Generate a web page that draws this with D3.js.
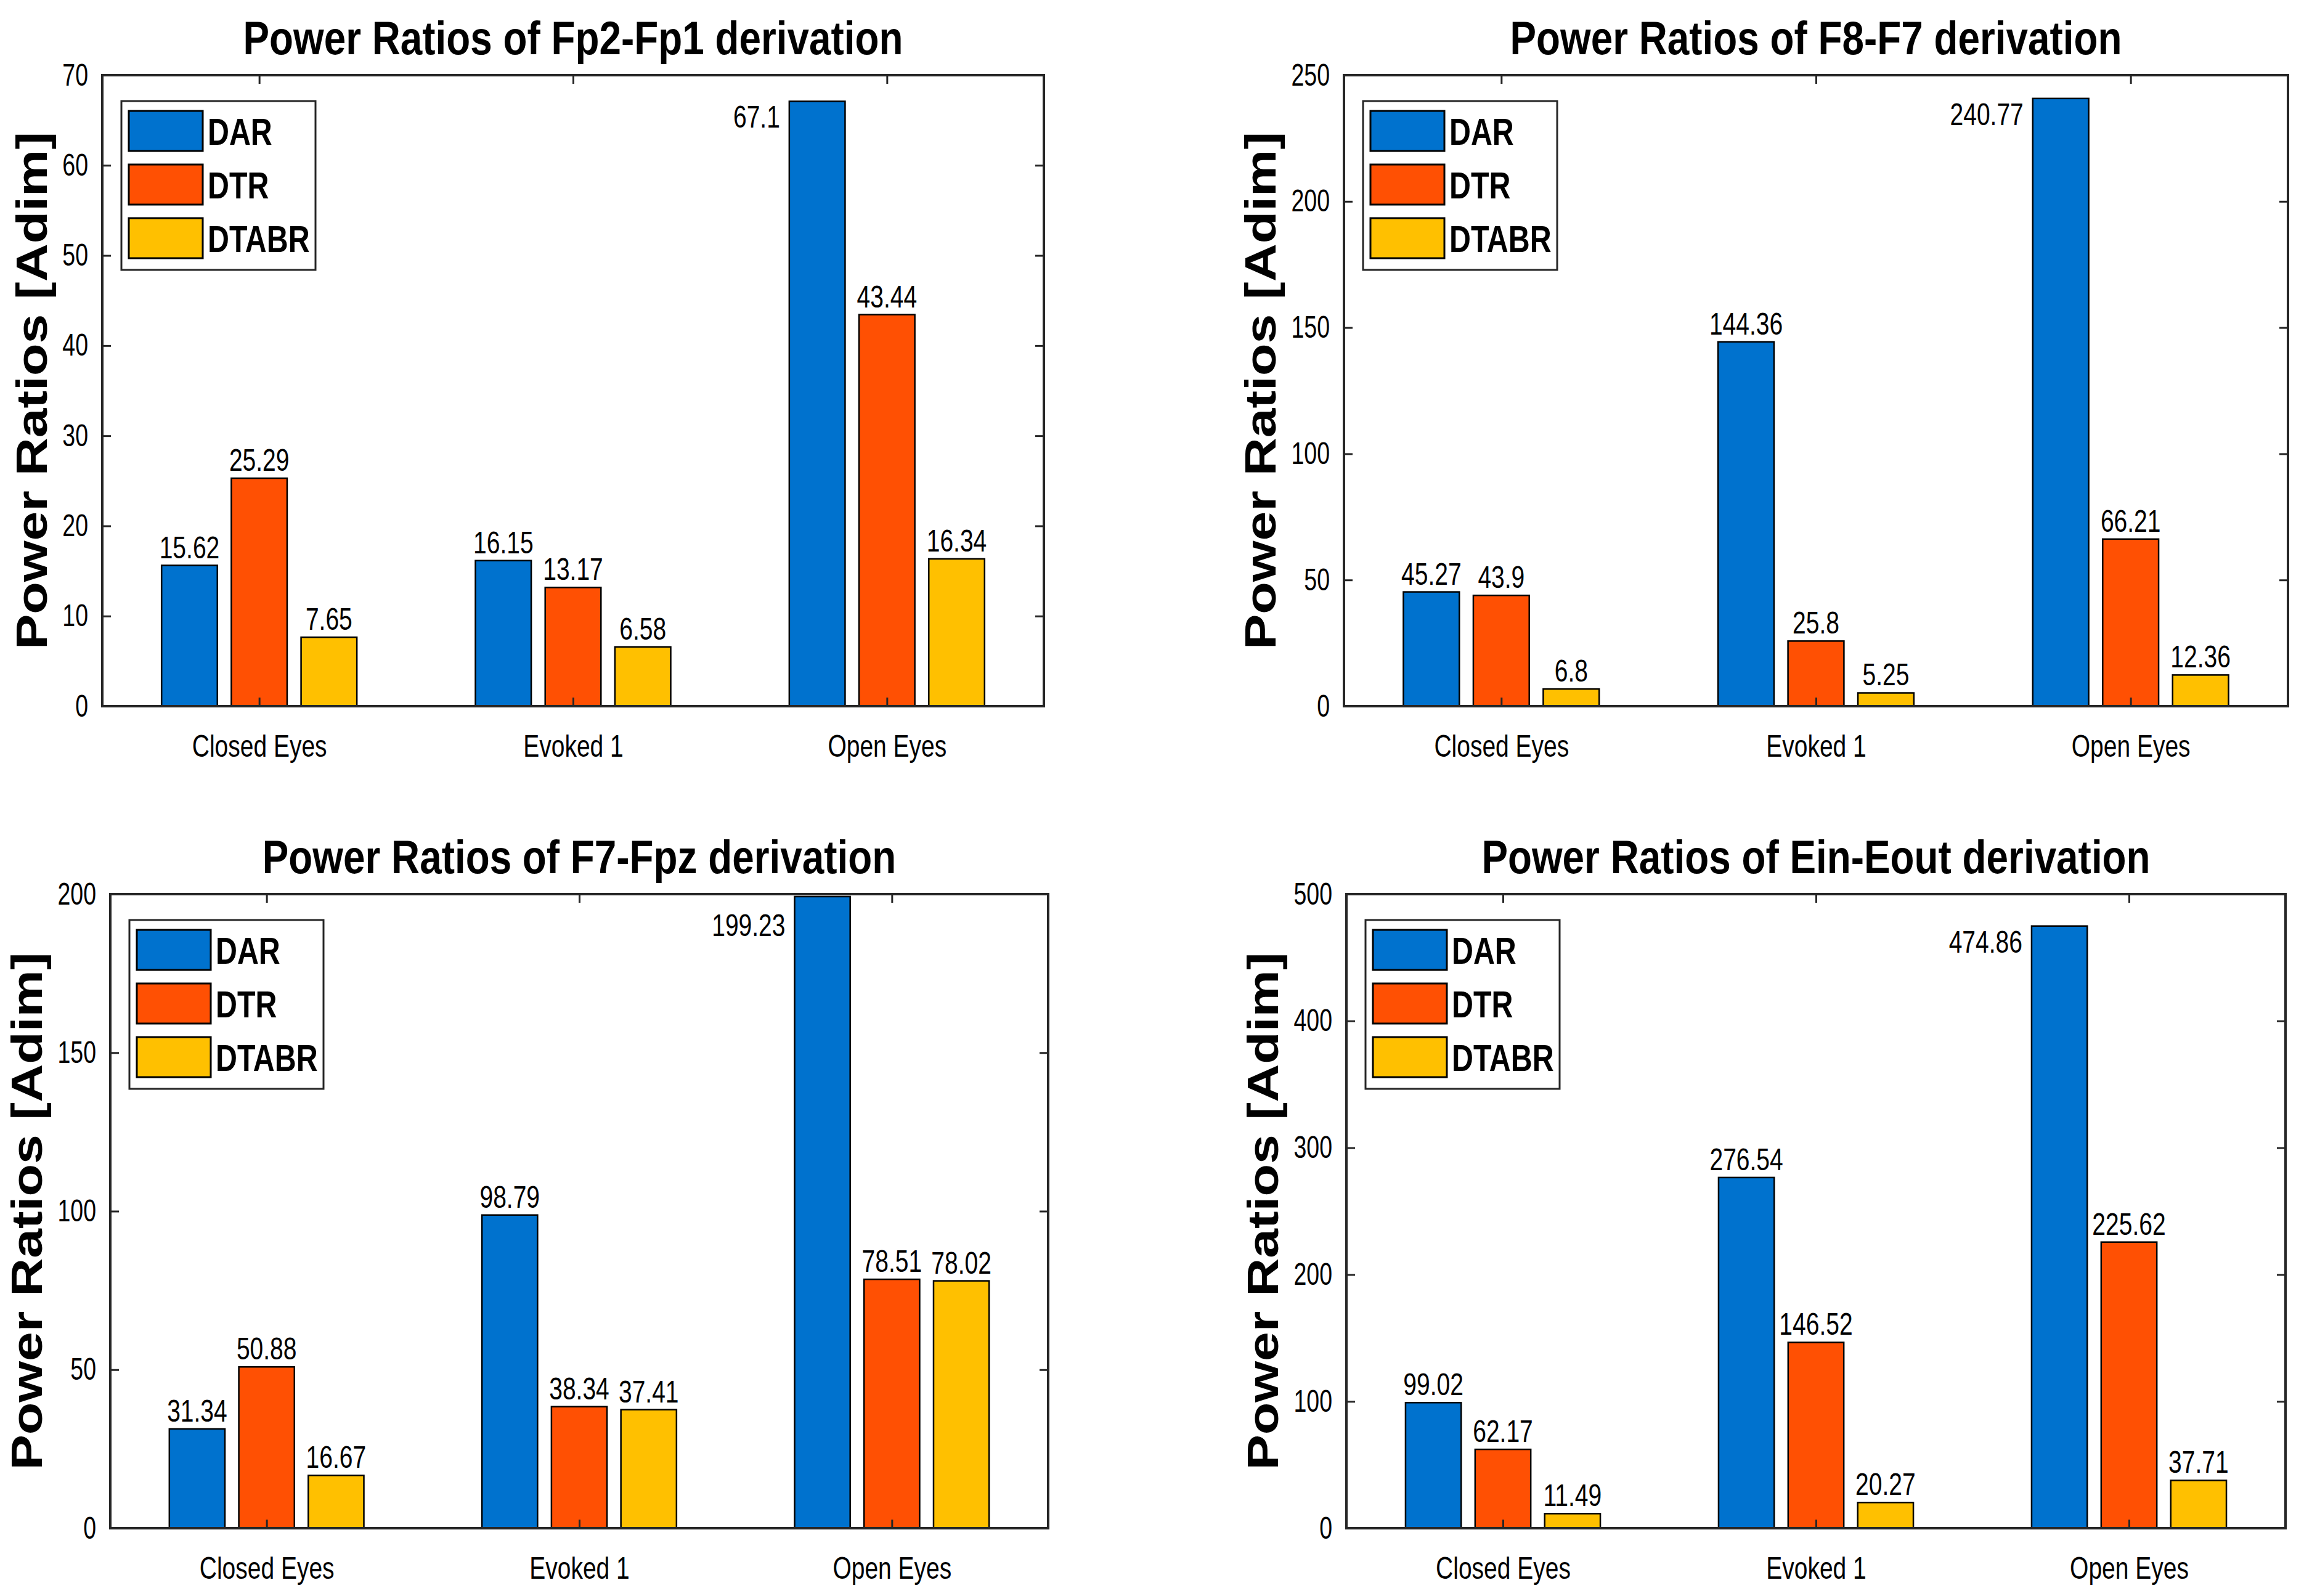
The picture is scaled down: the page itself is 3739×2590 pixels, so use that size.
<!DOCTYPE html>
<html lang="en">
<head>
    <meta charset="UTF-8">
    <title>Power Ratios</title>
    <script src="https://d3js.org/d3.v7.min.js"></script>
    <style>
      body { margin: 0; background: #fff; }
      text { fill: #000; }
    </style>
</head>
<body>
    <script>

      // categories and series
      const categories = ["Closed Eyes", "Evoked 1", "Open Eyes"];
      const seriesNames = ["DAR", "DTR", "DTABR"];
      const seriesColors = ["#0072CE", "#FF5003", "#FFC000"];

      // panel titles and y ranges
      const panelTitles = [
        "Power Ratios of Fp2-Fp1 derivation",
        "Power Ratios of F8-F7 derivation",
        "Power Ratios of F7-Fpz derivation",
        "Power Ratios of Ein-Eout derivation"
      ];
      const yMaxes = [70, 250, 200, 500];
      const ticksFp2Fp1 = [0, 10, 20, 30, 40, 50, 60, 70];
      const ticksF8F7 = [0, 50, 100, 150, 200, 250];
      const ticksF7Fpz = [0, 50, 100, 150, 200];
      const ticksEinEout = [0, 100, 200, 300, 400, 500];

      // values, one array per series (Closed Eyes, Evoked 1, Open Eyes)
      const fp2fp1DAR = [15.62, 16.15, 67.1];
      const fp2fp1DTR = [25.29, 13.17, 43.44];
      const fp2fp1DTABR = [7.65, 6.58, 16.34];

      const f8f7DAR = [45.27, 144.36, 240.77];
      const f8f7DTR = [43.9, 25.8, 66.21];
      const f8f7DTABR = [6.8, 5.25, 12.36];

      const f7fpzDAR = [31.34, 98.79, 199.23];
      const f7fpzDTR = [50.88, 38.34, 78.51];
      const f7fpzDTABR = [16.67, 37.41, 78.02];

      const einEoutDAR = [99.02, 276.54, 474.86];
      const einEoutDTR = [62.17, 146.52, 225.62];
      const einEoutDTABR = [11.49, 20.27, 37.71];

      const panelValues = [
        [fp2fp1DAR, fp2fp1DTR, fp2fp1DTABR],
        [f8f7DAR, f8f7DTR, f8f7DTABR],
        [f7fpzDAR, f7fpzDTR, f7fpzDTABR],
        [einEoutDAR, einEoutDTR, einEoutDTABR]
      ];
      const panelTicks = [ticksFp2Fp1, ticksF8F7, ticksF7Fpz, ticksEinEout];

      // plot boxes (pixels)
      const boxes = [
        {left: 166, top: 122, right: 1694, bottom: 1146},
        {left: 2181, top: 122, right: 3713, bottom: 1146},
        {left: 179, top: 1451, right: 1701, bottom: 2480},
        {left: 2185, top: 1451, right: 3709, bottom: 2480}
      ];

      // no Arial Narrow here, so squeeze Liberation Sans horizontally
      const font = "'Liberation Sans', Arial, sans-serif";

      function squeeze(sel, sx){
        sel.each(function(){
          const t = d3.select(this);
          const x = +t.attr("x") || 0;
          const y = +t.attr("y") || 0;
          t.attr("x", 0).attr("y", 0)
           .attr("transform", `translate(${x},${y}) scale(${sx},1)`);
        });
      }

      const svg = d3.select("body").append("svg")
        .attr("width", 3739).attr("height", 2590);

      // MATLAB style grouped bars
      const groupWidth = 0.6667;
      const slot = groupWidth / seriesNames.length;
      const barWidth = slot * 0.8;

      function drawPanel(p){
        const box = boxes[p];
        const g = svg.append("g");

        const x = d3.scaleLinear().domain([0.5, 3.5]).range([box.left, box.right]);
        const y = d3.scaleLinear().domain([0, yMaxes[p]]).range([box.bottom, box.top]);

        // bars
        seriesNames.forEach((name, s) => {
          const vals = panelValues[p][s];
          const off = (s - 1) * slot;

          g.append("g").selectAll("rect")
            .data(vals)
            .enter().append("rect")
            .attr("x", (d, i) => x(i + 1 + off - barWidth / 2))
            .attr("width", x(barWidth) - x(0))
            .attr("y", d => y(d))
            .attr("height", d => y(0) - y(d))
            .attr("fill", seriesColors[s])
            .attr("stroke", "#000")
            .attr("stroke-width", 2.5);

          // value labels (the tallest bar gets its label on the left)
          const labels = g.append("g").selectAll("text")
            .data(vals)
            .enter().append("text")
            .attr("font-family", font)
            .attr("font-size", 50)
            .attr("text-anchor", d => d / yMaxes[p] > 0.9 ? "end" : "middle")
            .attr("x", (d, i) => {
              if(d / yMaxes[p] > 0.9){
                return x(i + 1 + off - barWidth / 2) - 15;
              }
              return x(i + 1 + off);
            })
            .attr("y", d => {
              if(d / yMaxes[p] > 0.9){
                return Math.max(y(d) + 25, box.top + 50) + 18;
              }
              return y(d) - 12;
            })
            .text(d => String(d));
          squeeze(labels, 0.78);
        });

        // axes with inward ticks
        const yLeft = g.append("g")
          .attr("transform", `translate(${box.left},0)`)
          .call(d3.axisLeft(y).tickValues(panelTicks[p]).tickSizeInner(-14).tickSizeOuter(0).tickPadding(23));
        g.append("g")
          .attr("transform", `translate(${box.right},0)`)
          .call(d3.axisRight(y).tickValues(panelTicks[p]).tickSizeInner(-14).tickSizeOuter(0).tickFormat(""));
        const xBottom = g.append("g")
          .attr("transform", `translate(0,${box.bottom})`)
          .call(d3.axisBottom(x).tickValues([1, 2, 3]).tickSizeInner(-14).tickSizeOuter(0).tickPadding(46)
            .tickFormat(d => categories[d - 1]));
        g.append("g")
          .attr("transform", `translate(0,${box.top})`)
          .call(d3.axisTop(x).tickValues([1, 2, 3]).tickSizeInner(-14).tickSizeOuter(0).tickFormat(""));

        g.selectAll(".domain").remove();
        g.selectAll(".tick line").attr("stroke", "#262626").attr("stroke-width", 3);
        yLeft.selectAll("text").attr("font-family", font).attr("font-size", 50).attr("fill", "#262626");
        xBottom.selectAll("text").attr("font-family", font).attr("font-size", 50).attr("fill", "#262626");
        squeeze(yLeft.selectAll("text"), 0.75);
        squeeze(xBottom.selectAll("text"), 0.78);

        // box
        g.append("rect")
          .attr("x", box.left).attr("y", box.top)
          .attr("width", box.right - box.left).attr("height", box.bottom - box.top)
          .attr("fill", "none").attr("stroke", "#262626").attr("stroke-width", 4);

        // title
        const title = g.append("text")
          .attr("x", (box.left + box.right) / 2)
          .attr("y", box.top - 34)
          .attr("text-anchor", "middle")
          .attr("font-family", font)
          .attr("font-weight", "bold")
          .attr("font-size", 76)
          .text(panelTitles[p]);
        squeeze(title, 0.84);

        // y label, placed left of the tick labels
        const tickLeft = yLeft.node().getBBox().x + box.left;
        g.append("text")
          .attr("transform", `translate(${tickLeft - 50},${(box.top + box.bottom) / 2}) rotate(-90)`)
          .attr("text-anchor", "middle")
          .attr("dy", "0.35em")
          .attr("font-family", font)
          .attr("font-weight", "bold")
          .attr("font-size", 70)
          .attr("textLength", 840)
          .attr("lengthAdjust", "spacingAndGlyphs")
          .text("Power Ratios [Adim]");

        // legend
        const lx = box.left + 31, ly = box.top + 42;
        const legend = g.append("g").attr("transform", `translate(${lx},${ly})`);
        legend.append("rect")
          .attr("width", 315).attr("height", 274)
          .attr("fill", "#fff").attr("stroke", "#262626").attr("stroke-width", 3);
        const items = legend.selectAll("g.item")
          .data(seriesNames)
          .enter().append("g")
          .attr("class", "item")
          .attr("transform", (d, i) => `translate(12,${16 + i * 87})`);
        items.append("rect")
          .attr("width", 120).attr("height", 65)
          .attr("fill", (d, i) => seriesColors[i])
          .attr("stroke", "#000").attr("stroke-width", 3);
        const legendText = items.append("text")
          .attr("x", 128).attr("y", 55)
          .attr("font-family", font)
          .attr("font-weight", "bold")
          .attr("font-size", 62)
          .text(d => d);
        squeeze(legendText, 0.78);
      }

      for(var p = 0; p < 4; p++){
        drawPanel(p);
      }

    </script>
</body>
</html>
